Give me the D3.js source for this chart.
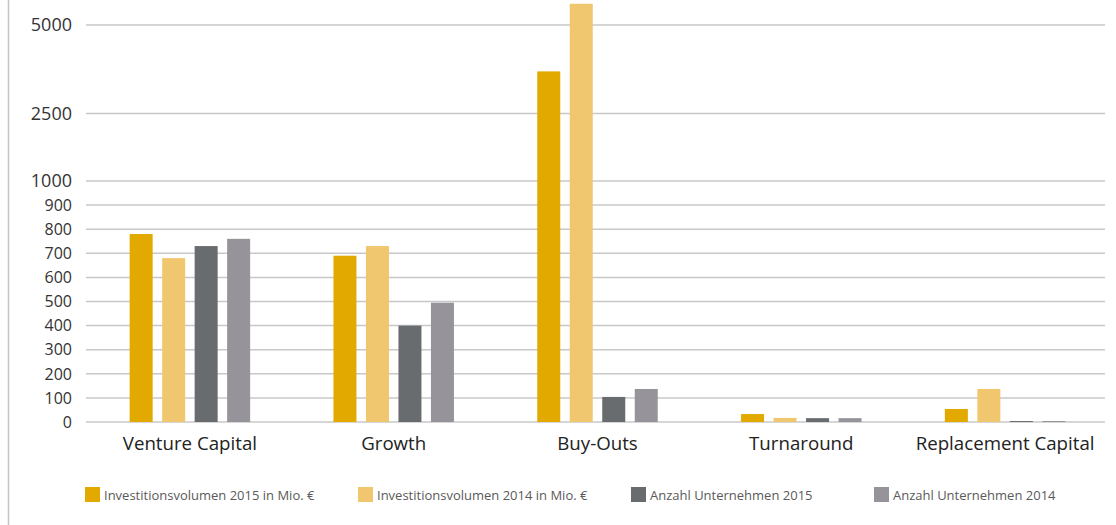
<!DOCTYPE html>
<html><head><meta charset="utf-8">
<script src="https://cdn.jsdelivr.net/npm/d3@7"></script>
<style>body{margin:0;background:#fff;font-family:"Open Sans",sans-serif;}</style>
</head><body><svg id="c" width="1116" height="525"></svg>
<script>
const categories = ["Venture Capital","Growth","Buy-Outs","Turnaround","Replacement Capital"];
const seriesNames = ["Investitionsvolumen 2015 in Mio. €","Investitionsvolumen 2014 in Mio. €","Anzahl Unternehmen 2015","Anzahl Unternehmen 2014"];
const invest2015 = [780, 690, 3690, 33, 54];
const invest2014 = [680, 730, 5600, 17, 137];
const anzahl2015 = [730, 400, 104, 16, 4];
const anzahl2014 = [760, 495, 137, 16, 4];
const tickValues = [0,100,200,300,400,500,600,700,800,900,1000,2500,5000];
const colors = ["#E2AA00","#F0C76E","#686C6E","#96949A"];

const series = [invest2015, invest2014, anzahl2015, anzahl2014];
const svg = d3.select("#c");
const x0 = 86, x1 = 1105;
const y = d3.scaleLinear().domain([0,1000,2500,5000]).range([422,181,113.5,25]);
const x = d3.scaleBand().domain(categories).range([x0+2,x1+2]).paddingInner(0).paddingOuter(0);
const gw = 120.5;
const xs = d3.scaleBand().domain(d3.range(4)).range([0,gw]).paddingInner(0.292);

// left border
svg.append("line").attr("x1",8.5).attr("x2",8.5).attr("y1",0).attr("y2",525).attr("stroke","#c4c4c4").attr("stroke-width",1.5);

// grid
svg.append("g").selectAll("line").data(tickValues).join("line")
  .attr("x1",x0).attr("x2",x1).attr("y1",d=>y(d)).attr("y2",d=>y(d))
  .attr("stroke","#c8c8c8").attr("stroke-width",1.5);

// y labels
svg.append("g").selectAll("text").data(tickValues).join("text")
  .attr("x",72).attr("y",d=>y(d)).attr("dy","0.36em").attr("text-anchor","end")
  .attr("font-size",d=>d>=1000?18:16).attr("fill","#333").text(d=>d);

// bars
const g = svg.append("g");
categories.forEach((c,i)=>{
  const cx = x(c) + x.bandwidth()/2 - gw/2;
  series.forEach((s,j)=>{
    g.append("rect").attr("x",cx+xs(j)).attr("width",xs.bandwidth())
      .attr("y",y(s[i])).attr("height",y(0)-y(s[i])).attr("fill",colors[j]);
  });
});

// x labels
svg.append("g").selectAll("text").data(categories).join("text")
  .attr("x",d=>x(d)+x.bandwidth()/2).attr("y",450).attr("text-anchor","middle")
  .attr("font-size",18.7).attr("fill","#222").text(d=>d);

// legend
const legX = [85,358,631,874];
const lg = svg.append("g");
seriesNames.forEach((n,j)=>{
  lg.append("rect").attr("x",legX[j]).attr("y",487).attr("width",15).attr("height",15).attr("fill",colors[j]);
  lg.append("text").attr("x",legX[j]+19).attr("y",499.5).attr("font-size",13).attr("fill","#5a5a5a").text(n);
});
</script></body></html>
